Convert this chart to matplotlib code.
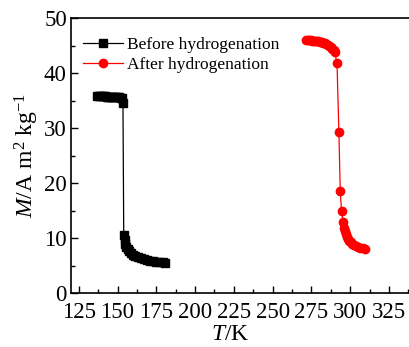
import matplotlib
matplotlib.use("Agg")
import matplotlib.pyplot as plt
from matplotlib.ticker import MultipleLocator

plt.rcParams['font.family'] = ['Liberation Serif', 'DejaVu Serif']
plt.rcParams['mathtext.fontset'] = 'custom'
plt.rcParams['mathtext.rm'] = 'Liberation Serif'
plt.rcParams['mathtext.it'] = 'Liberation Serif:italic'

# Magnetization vs temperature, before hydrogenation
t_before = [137, 138, 139, 140, 141, 142, 143, 144, 145, 146, 147, 148, 149, 150,
            151, 152, 153, 153.5, 154, 154.5, 155, 155.7, 156.5, 157.5, 158.5,
            160, 161.5, 163, 165, 167, 169, 171, 173, 175, 177, 179, 180.5]
m_before = [35.8, 35.8, 35.8, 35.8, 35.75, 35.75, 35.7, 35.7, 35.7, 35.65, 35.65,
            35.6, 35.6, 35.6, 35.55, 35.5, 35.4, 34.6, 10.6, 9.6, 8.9, 8.4, 8.0,
            7.6, 7.3, 6.95, 6.7, 6.5, 6.3, 6.1, 6.0, 5.9, 5.8, 5.7, 5.65, 5.55, 5.5]

# Magnetization vs temperature, after hydrogenation
t_after = [271.5, 272.5, 273.5, 274.5, 275.5, 276.5, 277.5, 278.5, 279.5, 280.5,
           281.5, 282.5, 283.5, 284.5, 285.5, 286.5, 287.5, 288.5, 289.3, 290,
           291.5, 292.7, 293.6, 294.4, 295.4, 295.9, 296.4, 297, 297.7, 298.5,
           299.3, 300.2, 301.2, 302.3, 303.5, 305, 306.5, 308, 309.5]
m_after = [46.0, 46.0, 45.95, 45.95, 45.9, 45.9, 45.85, 45.8, 45.75, 45.7,
           45.6, 45.5, 45.4, 45.3, 45.1, 44.9, 44.7, 44.4, 44.1, 43.8,
           41.8, 29.2, 18.5, 14.9, 12.9, 11.8, 11.3, 10.7, 10.2, 9.8,
           9.5, 9.2, 8.95, 8.7, 8.5, 8.3, 8.2, 8.1, 8.0]

x_ticks = [125, 150, 175, 200, 225, 250, 275, 300, 325]
y_ticks = [0, 10, 20, 30, 40, 50]

W, H = 409, 347
fig = plt.figure(figsize=(W / 100, H / 100), dpi=100)
ax = fig.add_axes([71 / W, (H - 293) / H, (420 - 71) / W, (293 - 18) / H])

ax.plot(t_before, m_before, '-s', color='black', lw=0.9, ms=5.2,
        label='Before hydrogenation')
ax.plot(t_after, m_after, '-o', color='red', lw=0.9, ms=6,
        label='After hydrogenation')

ax.set_xlim(120, 345)
ax.set_ylim(0, 50)
ax.set_xticks(x_ticks)
ax.set_yticks(y_ticks)
ax.xaxis.set_minor_locator(MultipleLocator(12.5))
ax.yaxis.set_minor_locator(MultipleLocator(5))
ax.tick_params(which='both', direction='in', top=False, right=False,
               labelsize=16.5, width=1)
ax.tick_params(which='major', length=5)
ax.tick_params(which='minor', length=3)
ax.tick_params(axis='x', which='major', pad=6.5)
ax.tick_params(axis='y', which='major', pad=3)
for s in ax.spines.values():
    s.set_linewidth(1.2)

ax.set_xlabel(r'$\it{T}$/K', fontsize=17, labelpad=0)
ax.xaxis.set_label_coords((230 - 71) / (420 - 71), -0.112)
ax.set_ylabel(r'$\it{M}$/A m$^2$ kg$^{-1}$', fontsize=17, labelpad=2)

leg = ax.legend(loc='upper left', bbox_to_anchor=(0.0, 0.975), frameon=False,
                fontsize=12.5, handlelength=2.3, handletextpad=0.2,
                labelspacing=0.2, borderaxespad=0.3)

fig.savefig('out.png', dpi=100)
